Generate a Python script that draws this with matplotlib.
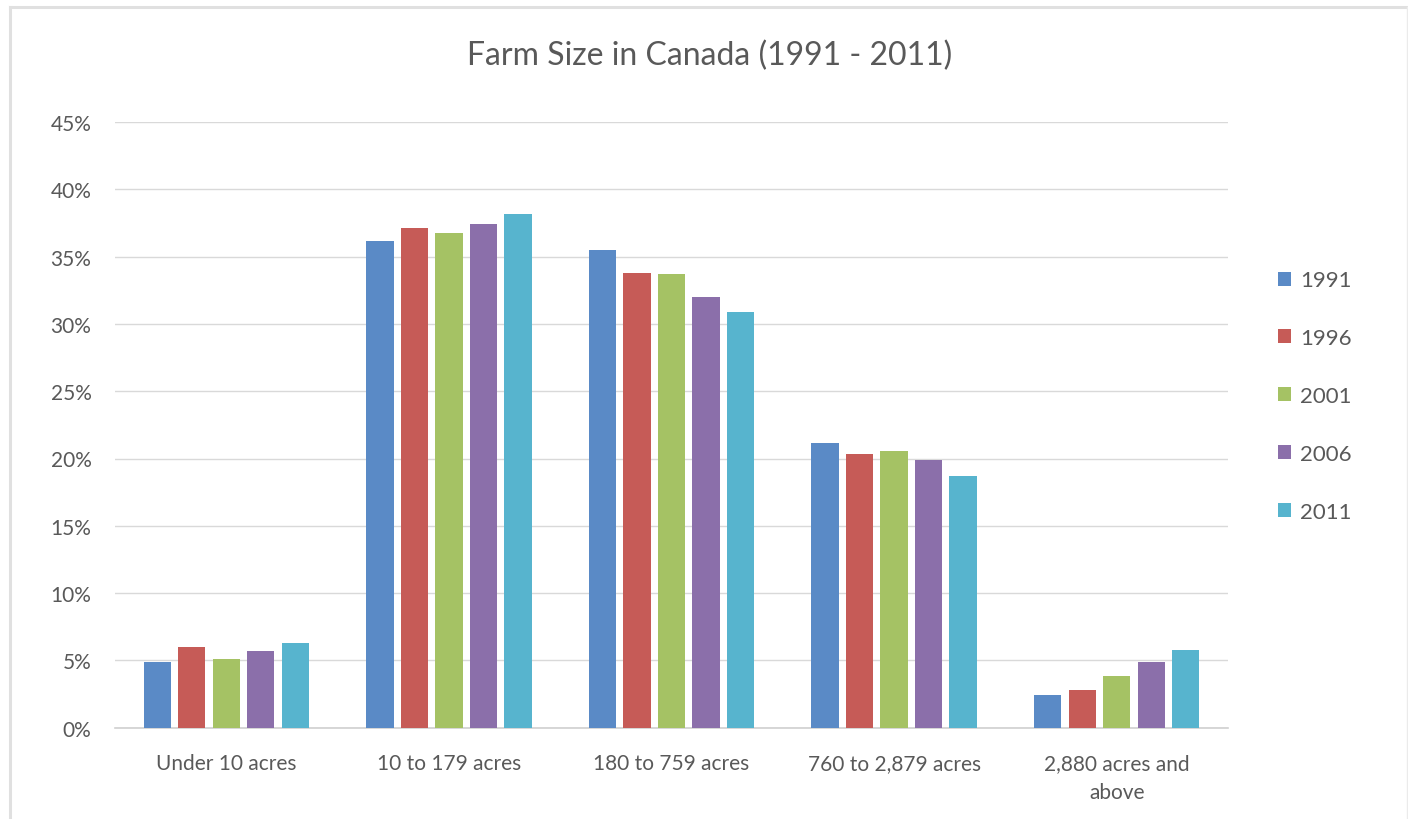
import matplotlib
matplotlib.use("Agg")
import matplotlib.pyplot as plt
import numpy as np
from matplotlib.patches import Rectangle
from matplotlib.lines import Line2D

categories = ["Under 10 acres", "10 to 179 acres", "180 to 759 acres",
              "760 to 2,879 acres", "2,880 acres and\nabove"]
years = ["1991", "1996", "2001", "2006", "2011"]
v1991 = [4.85, 36.14, 35.48, 21.14, 2.41]
v1996 = [5.96, 37.11, 33.79, 20.37, 2.78]
v2001 = [5.12, 36.74, 33.69, 20.54, 3.82]
v2006 = [5.69, 37.41, 31.98, 19.89, 4.86]
v2011 = [6.26, 38.15, 30.87, 18.73, 5.80]
series = [v1991, v1996, v2001, v2006, v2011]
colors = ["#5A8AC6", "#C65B57", "#A5C264", "#8B6FAA", "#57B4CE"]
yticks = [0, 5, 10, 15, 20, 25, 30, 35, 40, 45]

plt.rcParams['font.family'] = ['Lato', 'DejaVu Sans']
text_color = "#595959"

fig = plt.figure(figsize=(14.08, 8.2), dpi=100)
ax = fig.add_axes([115/1408, 1-728.7/820, (1228-115)/1408, (728.7-123)/820])

x = np.arange(len(categories))
pitch = 0.155
width = 0.123
for i, (vals, c, yr) in enumerate(zip(series, colors, years)):
    ax.bar(x + (i - 2) * pitch, vals, width=width, color=c, label=yr, zorder=3)

ax.set_xlim(-0.5, len(categories) - 0.5)
ax.set_ylim(0, 45)
ax.set_yticks(yticks)
ax.set_yticklabels([f"{t}%" for t in yticks])
ax.set_xticks(x)
ax.set_xticklabels(categories, linespacing=1.6)
ax.grid(axis='y', color="#d9d9d9", linewidth=1.0, zorder=0)
for s in ["top", "right", "left"]:
    ax.spines[s].set_visible(False)
ax.spines["bottom"].set_color("#d0d0d0")
ax.spines["bottom"].set_linewidth(1.2)
ax.tick_params(axis='both', length=0, labelsize=15, colors=text_color)
ax.tick_params(axis='y', pad=17)
ax.tick_params(axis='x', pad=18)

fig.text(710/1408, 1-56/820, "Farm Size in Canada (1991 - 2011)", ha='center', va='center',
         fontsize=23, color=text_color)

handles = [Rectangle((0, 0), 1, 1, facecolor=c, edgecolor='none') for c in colors]
leg = fig.legend(handles, years, loc='center left', bbox_to_anchor=(1258/1408, 1-397/820),
                 frameon=False, fontsize=16, handlelength=0.6, handleheight=0.6,
                 handletextpad=0.4, labelspacing=1.70, labelcolor=text_color)

# outer chart border
fig.add_artist(Line2D([10/1408, 10/1408], [0, 1-8/820], transform=fig.transFigure,
                      color="#e0e0e0", linewidth=2.2))
fig.add_artist(Line2D([10/1408, 1], [1-8/820, 1-8/820], transform=fig.transFigure,
                      color="#e0e0e0", linewidth=2.2))
fig.add_artist(Line2D([1406.5/1408, 1406.5/1408], [0, 1-8/820], transform=fig.transFigure,
                      color="#ebebeb", linewidth=1.0))

fig.savefig("out.png", dpi=100, facecolor="white")
